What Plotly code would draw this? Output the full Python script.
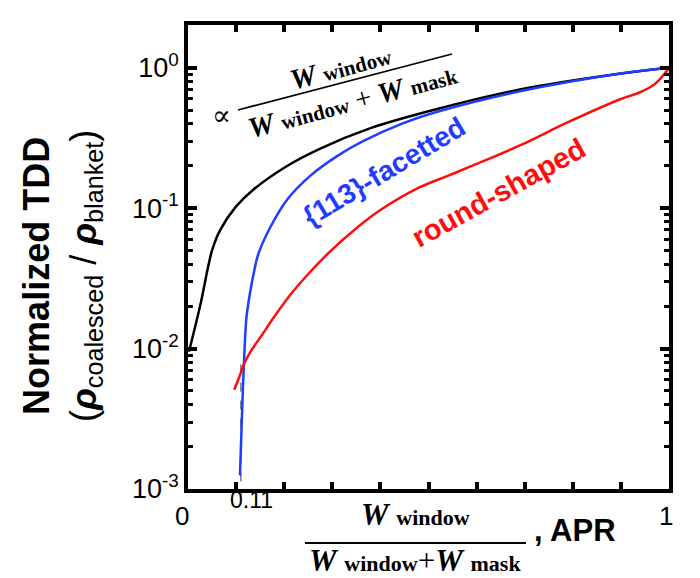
import math
import plotly.graph_objects as go

# curves (APR vs normalized TDD)
black_x = [0.002, 0.025, 0.05, 0.066, 0.1, 0.135, 0.206, 0.274, 0.378, 0.51, 0.69, 0.9, 1.0]
black_y = [0.0095, 0.02, 0.05, 0.069, 0.103, 0.135, 0.2, 0.265, 0.37, 0.5, 0.7, 0.91, 1.0]

blue_x = [0.108, 0.111, 0.114, 0.117, 0.119, 0.122, 0.129, 0.137, 0.146, 0.17, 0.206, 0.254, 0.31, 0.364,
          0.445, 0.513, 0.69, 0.9, 1.0]
blue_y = [0.00125, 0.0025, 0.005, 0.009, 0.0124, 0.0173, 0.025, 0.035, 0.047, 0.072, 0.115, 0.17, 0.235, 0.30,
          0.40, 0.48, 0.68, 0.91, 1.0]

red_x = [0.096, 0.106, 0.116, 0.13, 0.153, 0.18, 0.212, 0.25, 0.295, 0.35, 0.40, 0.48, 0.54, 0.59, 0.69,
         0.79, 0.9, 0.94, 0.967, 0.985, 1.0]
red_y = [0.0051, 0.0062, 0.0077, 0.0095, 0.0124, 0.017, 0.024, 0.034, 0.049, 0.072, 0.097, 0.14, 0.17, 0.2,
         0.28, 0.41, 0.6, 0.67, 0.75, 0.86, 1.0]

apr_cutoff = 0.11
cutoff_top = 0.0077

decades = [0.001, 0.01, 0.1, 1]
decade_text = ["10<sup>-3</sup>", "10<sup>-2</sup>", "10<sup>-1</sup>", "10<sup>0</sup>"]

SANS = "Arial, Liberation Sans, sans-serif"
SERIF = "Liberation Serif, DejaVu Serif, serif"
BLUE = "#1f3cff"
RED = "#ff0d0d"

# page puts the figure 8px in from the corner, so the figure is 8px smaller
OFF = 8
W, H = 700 - OFF, 578 - OFF
L, R, T, B = 188 - OFF, 31, 25 - OFF, 97 - OFF
YR = [-3, 0.305]


def px(x, y):
    # screenshot pixel position -> paper coords
    x, y = x - OFF, y - OFF
    return (x - L) / (W - L - R), (H - B - y) / (H - T - B)


fig = go.Figure()
fig.add_trace(go.Scatter(x=black_x, y=black_y, mode="lines", line=dict(color="black", width=2.5),
                         line_shape="spline"))
fig.add_trace(go.Scatter(x=blue_x, y=blue_y, mode="lines", line=dict(color=BLUE, width=2.5),
                         line_shape="spline"))
fig.add_trace(go.Scatter(x=red_x, y=red_y, mode="lines", line=dict(color=RED, width=2.5),
                         line_shape="spline"))

# dashed cut-off marker
y_top = (math.log10(cutoff_top) - YR[0]) / (YR[1] - YR[0])
fig.add_shape(type="line", xref="paper", yref="paper", x0=apr_cutoff, x1=apr_cutoff,
              y0=y_top, y1=-0.018, line=dict(color="#333", width=1, dash="dash"), layer="below")

axis_common = dict(showline=True, linewidth=3.5, linecolor="black", mirror="ticks", ticks="inside",
                   tickcolor="black", showgrid=False, zeroline=False)

fig.update_layout(
    width=W, height=H,
    margin=dict(l=L, r=R, t=T, b=B, autoexpand=False),
    paper_bgcolor="white", plot_bgcolor="white",
    showlegend=False,
    font=dict(family=SANS, color="black"),
    xaxis=dict(range=[0, 1], ticklen=7, tickwidth=3.5, dtick=0.1, showticklabels=False, **axis_common),
    yaxis=dict(type="log", range=YR, ticklen=9, tickwidth=3.5, tickvals=decades, ticktext=decade_text,
               tickfont=dict(size=27, family=SANS),
               minor=dict(ticks="inside", ticklen=5, tickwidth=2.5, tickcolor="black", dtick="D1"),
               **axis_common),
)

ann = []


def text(x, y, s, size, family=SANS, color="black", angle=0, xanchor="center"):
    xp, yp = px(x, y)
    ann.append(dict(x=xp, y=yp, xref="paper", yref="paper", text=s, showarrow=False,
                    font=dict(size=size, family=family, color=color), textangle=angle,
                    xanchor=xanchor, yanchor="middle"))


def wsub(sub, sub_size):
    return "<b><i>W</i></b> <span style='font-size:%dpx'><b>%s</b></span>" % (sub_size, sub)


def rule(xa, ya, xb, yb, width):
    x0, y0 = px(xa, ya)
    x1, y1 = px(xb, yb)
    fig.add_shape(type="line", xref="paper", yref="paper", x0=x0, y0=y0, x1=x1, y1=y1,
                  line=dict(color="black", width=width))


# x tick labels
text(182, 516, "0", 26)
text(251, 500, "0.11", 23)
text(666, 516, "1", 26)

# y axis title
text(62, 276, "<b>Normalized TDD</b><br>(<b><i>ρ</i></b><sub>coalesced</sub> / <b><i>ρ</i></b><sub>blanket</sub>)",
     36, angle=-90)

# x axis title: fraction + ", APR"
text(415, 514, wsub("window", 22), 31, SERIF)
text(415, 560, wsub("window", 22) + "+" + wsub("mask", 22), 31, SERIF)
rule(305, 543, 526, 543, 2)
text(575, 530, "<b>, APR</b>", 31)

# proportionality label, tilted
tilt = -15
text(221, 115, "∝", 28, SERIF)
text(341, 67, wsub("window", 21), 29, SERIF, angle=tilt)
text(352, 101, wsub("window", 21) + " + " + wsub("mask", 21), 29, SERIF, angle=tilt)
rule(238, 110, 452, 54, 1.8)

# curve labels
text(384, 171, "<b>{113}-facetted</b>", 28, color=BLUE, angle=-31)
text(498, 193, "<b>round-shaped</b>", 29, color=RED, angle=-29)

fig.update_layout(annotations=ann)
fig.write_html("out.html")
